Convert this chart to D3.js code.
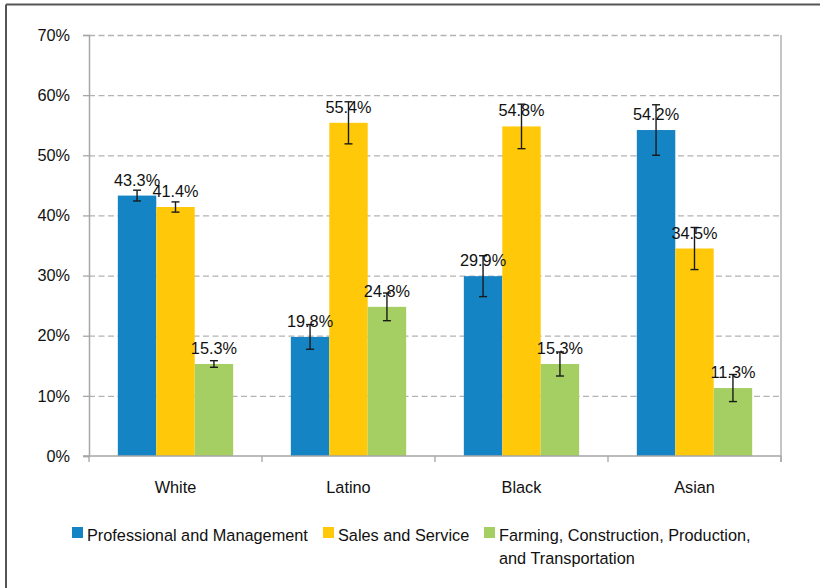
<!DOCTYPE html>
<html>
<head>
<meta charset="utf-8">
<script src="https://cdn.jsdelivr.net/npm/d3@7"></script>
<style>
  html, body { margin: 0; padding: 0; background: #fff; }
  svg { display: block; }
  text { font-family: "Liberation Sans", Arial, sans-serif; fill: #111; }
</style>
</head>
<body>
<svg id="chart" width="820" height="588"></svg>
<script>
const categories = ["White", "Latino", "Black", "Asian"];
const seriesNames = ["Professional and Management", "Sales and Service", "Farming, Construction, Production, and Transportation"];
const seriesColors = ["#1484C5", "#FFC90A", "#A5CF63"];
const professional = [43.3, 19.8, 29.9, 54.2];
const salesService = [41.4, 55.4, 54.8, 34.5];
const farmingEtc = [15.3, 24.8, 15.3, 11.3];
const profErr = [0.9, 2.05, 3.4, 4.2];
const salesErr = [0.85, 3.5, 3.7, 3.5];
const farmErr = [0.55, 2.3, 2.0, 2.25];
const yTicks = [0, 10, 20, 30, 40, 50, 60, 70];

(function () {
const values = [professional, salesService, farmingEtc];
const errors = [profErr, salesErr, farmErr];
const fs = 16.3;

const svg = d3.select("#chart");
const pLeft = 89, pRight = 781, pTop = 35, pBottom = 456;

// outer frame (only left and top visible)
svg.append("line").attr("x1", 6).attr("y1", 4.5).attr("x2", 820).attr("y2", 4.5)
  .attr("stroke", "#555").attr("stroke-width", 2);
svg.append("line").attr("x1", 6).attr("y1", 4.5).attr("x2", 6).attr("y2", 588)
  .attr("stroke", "#555").attr("stroke-width", 2);

const y = d3.scaleLinear().domain([0, 70]).range([pBottom, pTop]);
const x0 = d3.scaleBand().domain(categories).range([pLeft, pRight]).padding(0);
const bw = x0.bandwidth();
const x1 = d3.scaleBand().domain(d3.range(seriesNames.length)).range([bw / 6, bw - bw / 6]).padding(0);

// gridlines
svg.append("g").selectAll("line").data(yTicks.filter(d => d > 0)).join("line")
  .attr("x1", pLeft).attr("x2", pRight)
  .attr("y1", d => y(d) + 0.5).attr("y2", d => y(d) + 0.5)
  .attr("stroke", "#b3b3b3").attr("stroke-width", 1.3)
  .attr("stroke-dasharray", "6,3.5");

// right border of plot area
svg.append("line").attr("x1", pRight).attr("x2", pRight).attr("y1", pTop).attr("y2", pBottom + 6)
  .attr("stroke", "#a6a6a6").attr("stroke-width", 1.3);

// bars
const groups = svg.append("g").selectAll("g").data(categories).join("g")
  .attr("transform", c => `translate(${x0(c)},0)`);

groups.each(function(c, ci) {
  const g = d3.select(this);
  values.forEach((arr, si) => {
    const v = arr[ci];
    g.append("rect")
      .attr("x", x1(si)).attr("width", x1.bandwidth())
      .attr("y", y(v)).attr("height", y(0) - y(v))
      .attr("fill", seriesColors[si]);
  });
  values.forEach((arr, si) => {
    const v = arr[ci], e = errors[si][ci];
    const cx = x1(si) + x1.bandwidth() / 2;
    const eg = g.append("g").attr("stroke", "#1a1a1a").attr("stroke-width", 1.4);
    eg.append("line").attr("x1", cx).attr("x2", cx).attr("y1", y(v + e)).attr("y2", y(v - e));
    eg.append("line").attr("x1", cx - 4).attr("x2", cx + 4).attr("y1", y(v + e)).attr("y2", y(v + e));
    eg.append("line").attr("x1", cx - 4).attr("x2", cx + 4).attr("y1", y(v - e)).attr("y2", y(v - e));
  });
  values.forEach((arr, si) => {
    const v = arr[ci];
    const cx = x1(si) + x1.bandwidth() / 2;
    g.append("text").attr("x", cx).attr("y", y(v) - 10)
      .attr("text-anchor", "middle").attr("font-size", fs)
      .text(v.toFixed(1) + "%");
  });
});

// y axis
const yAxis = d3.axisLeft(y).tickValues(yTicks).tickFormat(d => d + "%").tickSize(6).tickPadding(13);
const yg = svg.append("g").attr("transform", `translate(${pLeft},0)`).call(yAxis);
yg.select(".domain").attr("stroke", "#a6a6a6").attr("stroke-width", 1.5);
yg.selectAll(".tick line").attr("stroke", "#a6a6a6").attr("stroke-width", 1.3);
yg.selectAll(".tick text").attr("font-size", fs).attr("font-family", "Liberation Sans, Arial, sans-serif").attr("fill", "#111");

// x axis
const xg = svg.append("g").attr("transform", `translate(0,${pBottom})`);
xg.append("line").attr("x1", pLeft - 6).attr("x2", pRight).attr("y1", 0).attr("y2", 0)
  .attr("stroke", "#a6a6a6").attr("stroke-width", 1.5);
const boundaries = categories.map(c => x0(c)).concat([pRight]);
xg.selectAll("line.tk").data(boundaries).join("line").attr("class", "tk")
  .attr("x1", d => d).attr("x2", d => d).attr("y1", 0).attr("y2", 6)
  .attr("stroke", "#a6a6a6").attr("stroke-width", 1.3);
xg.selectAll("text").data(categories).join("text")
  .attr("x", c => x0(c) + bw / 2).attr("y", 37)
  .attr("text-anchor", "middle").attr("font-size", fs).text(c => c);

// legend
const legend = svg.append("g");
const legendItems = [
  { x: 72, lines: ["Professional and Management"] },
  { x: 323, lines: ["Sales and Service"] },
  { x: 484, lines: ["Farming, Construction, Production,", "and Transportation"] }
];
legendItems.forEach((it, i) => {
  legend.append("rect").attr("x", it.x).attr("y", 527).attr("width", 11).attr("height", 11)
    .attr("fill", seriesColors[i]);
  const t = legend.append("text").attr("x", it.x + 15).attr("y", 541).attr("font-size", fs);
  it.lines.forEach((ln, li) => {
    t.append("tspan").attr("x", it.x + 15).attr("dy", li === 0 ? 0 : 22.5).text(ln);
  });
});
})();
</script>
</body>
</html>
